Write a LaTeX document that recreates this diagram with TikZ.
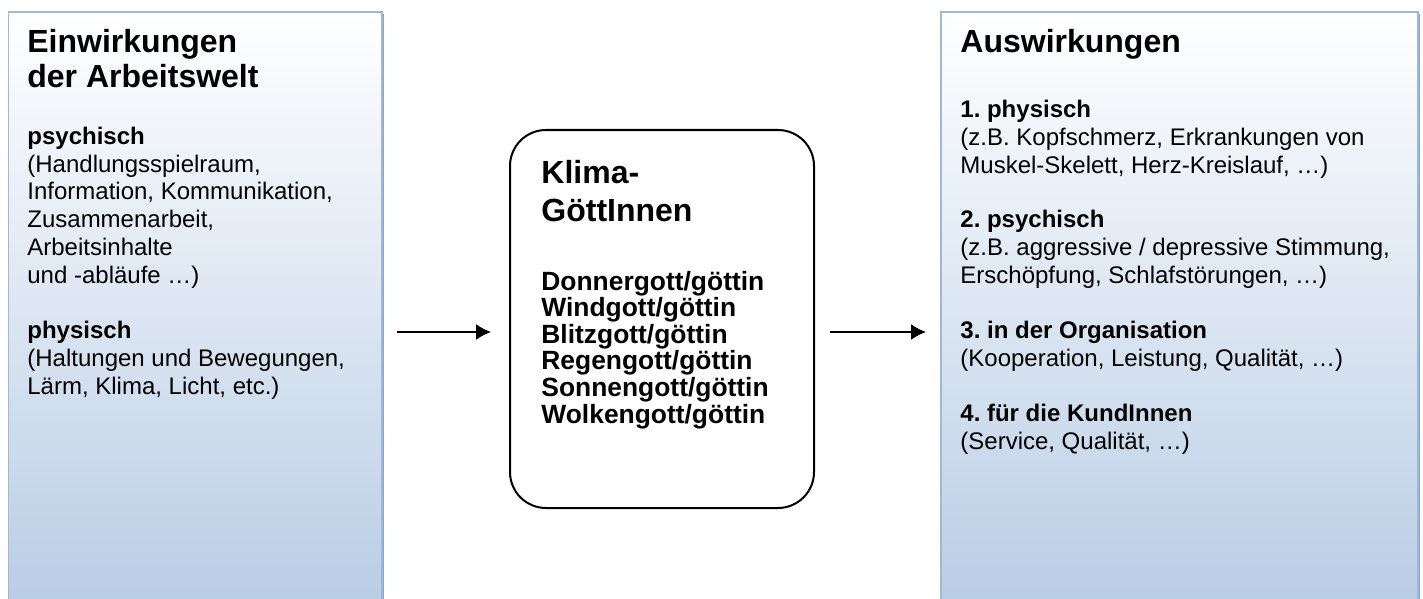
\documentclass[tikz,border=0pt]{standalone}
\usepackage{fontspec}
\setmainfont{Liberation Sans}
\usetikzlibrary{positioning,arrows.meta,shadows}
\definecolor{panelbottom}{RGB}{185,205,229}
\definecolor{panelline}{RGB}{160,184,216}
\definecolor{panelshadow}{RGB}{140,165,203}
\frenchspacing

\begin{document}
\begin{tikzpicture}[x=0.5pt,y=-0.5pt,
    panel/.style={rectangle,draw=panelline,line width=0.9pt,top color=white,bottom color=panelbottom,
        anchor=north west,inner sep=0pt,minimum height=297pt,
        drop shadow={shadow xshift=1.2pt,shadow yshift=-1.2pt,fill=panelshadow,opacity=1}},
    godbox/.style={rectangle,draw,line width=1pt,fill=white,rounded corners=18pt,
        anchor=north west,inner sep=0pt,minimum width=152pt,minimum height=189pt},
    head/.style={anchor=base west,inner sep=0pt,align=left,font=\fontsize{16}{17.5}\selectfont\bfseries},
    body/.style={anchor=base west,inner sep=0pt,align=left,font=\fontsize{12}{13.85}\selectfont},
    gods/.style={anchor=base west,inner sep=0pt,align=left,font=\fontsize{13.2}{13.3}\selectfont\bfseries},
    flow/.style={-{Latex[length=7.5pt,width=8pt]},line width=0.75pt}]
    \useasboundingbox (0,0) rectangle (1423,599);
    \clip (0,0) rectangle (1423,599);

    % the three boxes
    \node[panel,minimum width=186.75pt] (lbox) at (7.5,11) {};
    \node[panel,minimum width=238.5pt] (rbox) at (940,11) {};
    \node[godbox] (mbox) at (509,129) {};

    % left box (base = last line)
    \node[head] (ltitle) at (27,88) {Einwirkungen\\der Arbeitswelt};
    \node[body] (lpsy) at (27,283) {\textbf{psychisch}\\(Handlungsspielraum,\\Information, Kommunikation,\\Zusammenarbeit,\\Arbeitsinhalte\\und -abläufe …)};
    \node[body] (lphy) at (27,394) {\textbf{physisch}\\(Haltungen und Bewegungen,\\Lärm, Klima, Licht, etc.)};

    % middle box
    \node[head,font=\fontsize{16}{19}\selectfont\bfseries] (mtitle) at (541,221) {Klima-\\GöttInnen};
    \node[gods] (mlist) at (541,423) {Donnergott/göttin\\Windgott/göttin\\Blitzgott/göttin\\Regengott/göttin\\Sonnengott/göttin\\Wolkengott/göttin};

    % right box
    \node[head] (rtitle) at (960,53) {Auswirkungen};
    \node[body] (rone) at (960,173) {\textbf{1. physisch}\\(z.B. Kopfschmerz, Erkrankungen von\\Muskel-Skelett, Herz-Kreislauf, …)};
    \node[body] (rtwo) at (960,283) {\textbf{2. psychisch}\\(z.B. aggressive / depressive Stimmung,\\Erschöpfung, Schlafstörungen, …)};
    \node[body] (rthree) at (960,366) {\textbf{3. in der Organisation}\\(Kooperation, Leistung, Qualität, …)};
    \node[body] (rfour) at (960,449) {\textbf{4. für die KundInnen}\\(Service, Qualität, …)};

    % arrows
    \coordinate (lin) at ([yshift=-6.5pt]mbox.west);
    \coordinate (rout) at ([yshift=-6.5pt]mbox.east);
    \draw[flow,shorten <=7pt,shorten >=9pt] (lbox.east |- lin) -- (lin);
    \draw[flow,shorten <=7.5pt,shorten >=7pt] (rout) -- (rbox.west |- rout);
\end{tikzpicture}
\end{document}
